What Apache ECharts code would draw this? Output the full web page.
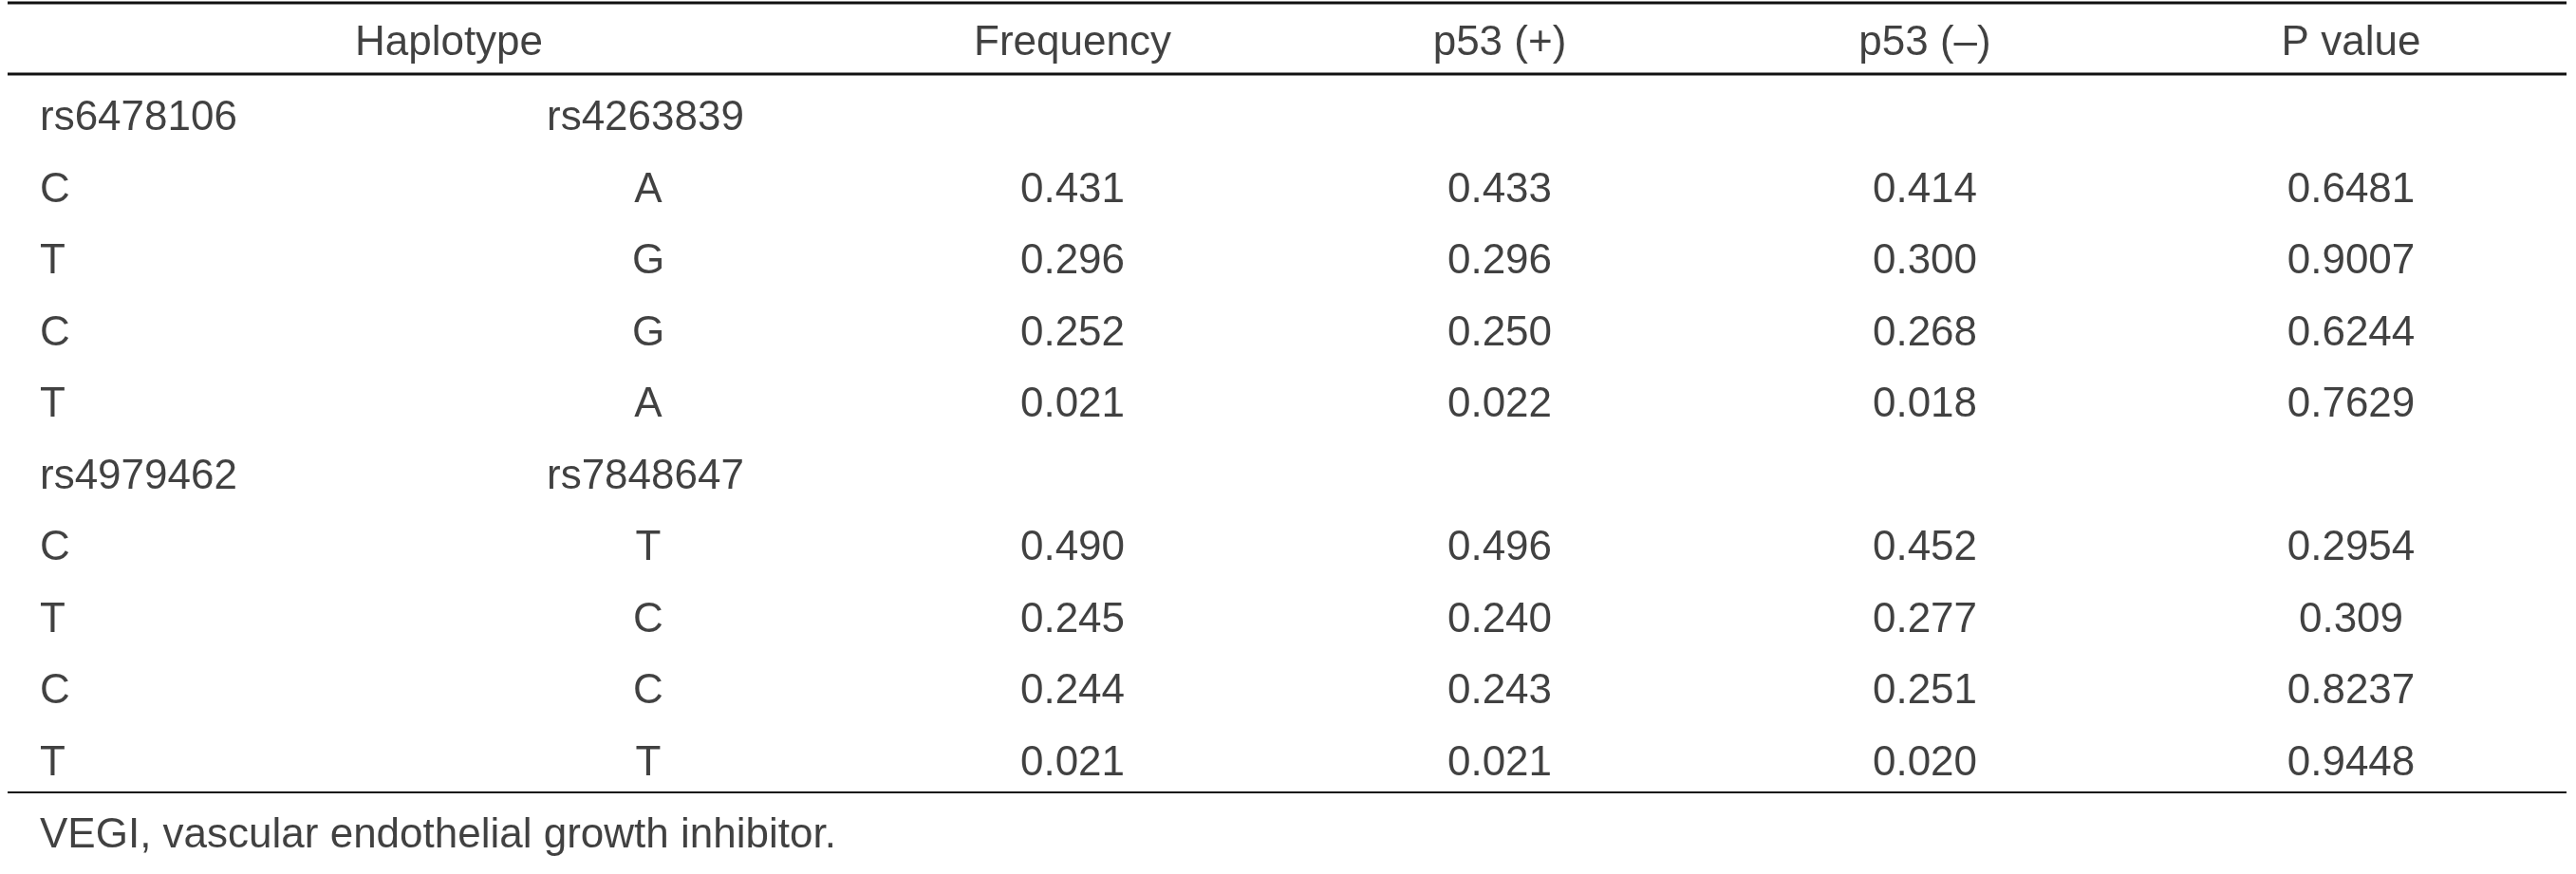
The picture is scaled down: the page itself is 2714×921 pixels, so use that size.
<!DOCTYPE html>
<html><head><meta charset="utf-8">
<script src="https://cdn.jsdelivr.net/npm/echarts@6/dist/echarts.min.js"></script>
<style>html,body{margin:0;padding:0;background:#fff}#c{width:2714px;height:921px}</style>
</head><body><div id="c"></div>
<script>
const headers = ["Haplotype", "Frequency", "p53 (+)", "p53 (–)", "P value"];
const snp1 = ["rs6478106", "C", "T", "C", "T", "rs4979462", "C", "T", "C", "T"];
const snp2 = ["rs4263839", "A", "G", "G", "A", "rs7848647", "T", "C", "C", "T"];
const frequency = ["", "0.431", "0.296", "0.252", "0.021", "", "0.490", "0.245", "0.244", "0.021"];
const p53pos = ["", "0.433", "0.296", "0.250", "0.022", "", "0.496", "0.240", "0.243", "0.021"];
const p53neg = ["", "0.414", "0.300", "0.268", "0.018", "", "0.452", "0.277", "0.251", "0.020"];
const pvalue = ["", "0.6481", "0.9007", "0.6244", "0.7629", "", "0.2954", "0.309", "0.8237", "0.9448"];
const footnote = "VEGI, vascular endothelial growth inhibitor.";

const FONT = "'Liberation Sans', Arial, sans-serif";
const FS = 44, COLOR = "#111111";
const rowY = i => 125 + i * 75.5;
const headerY = 46;
const headerX = [473, 1130, 1580, 2028, 2477];
const numX = [1130, 1580, 2028, 2477];

const pts = [];
const add = (x, y, t, align) => pts.push({value: [x, y], label: {formatter: t, align: align}});
headers.forEach((h, i) => add(headerX[i], headerY, h, 'center'));
snp1.forEach((t, i) => add(42, rowY(i), t, 'left'));
snp2.forEach((t, i) => add(t.length > 1 ? 576 : 683, rowY(i), t, t.length > 1 ? 'left' : 'center'));
[frequency, p53pos, p53neg, pvalue].forEach((arr, c) => arr.forEach((t, i) => { if (t) add(numX[c], rowY(i), t, 'center'); }));
add(42, 881, footnote, 'left');

const hline = (y, w) => ({type: 'line', data: [[8, y], [2704, y]], symbol: 'none', silent: true,
  lineStyle: {color: COLOR, width: w}, animation: false});

const chart = echarts.init(document.getElementById('c'));
chart.setOption({
  animation: false,
  grid: {left: 0, right: 0, top: 0, bottom: 0},
  xAxis: {type: 'value', min: 0, max: 2714, show: false},
  yAxis: {type: 'value', min: 0, max: 921, inverse: true, show: false},
  series: [
    hline(3, 3), hline(78, 3), hline(835, 2),
    {type: 'scatter', symbolSize: 0, data: pts, silent: true,
     label: {show: true, position: 'inside', verticalAlign: 'middle', color: COLOR, fontSize: FS, fontFamily: FONT}}
  ]
});
</script></body></html>
